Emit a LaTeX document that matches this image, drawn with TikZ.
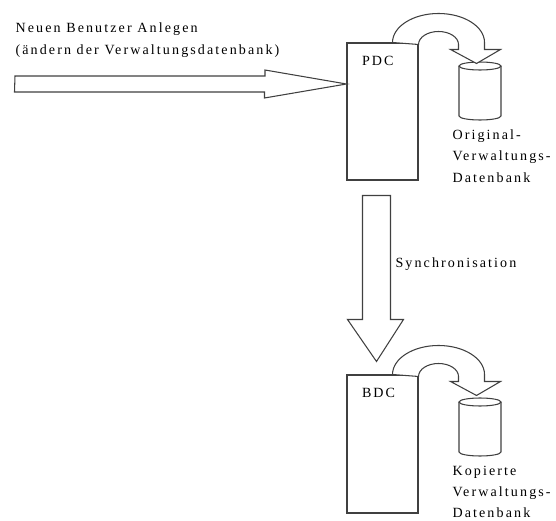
\documentclass[tikz,border=0pt]{standalone}
\usepackage{fontspec}
\setmainfont{Liberation Serif}[LetterSpace=15]
\usepackage{tikz}
\usetikzlibrary{calc}
\tikzset{
	dcbox/.style={draw, minimum width=1.42cm, inner sep=0pt},
	bigarrow/.style={draw, fill=white, line join=miter},
	txt/.style={inner sep=0pt, align=left, font=\fontsize{8}{12.2}\selectfont}
}
\def\hookarrow(#1){\draw[bigarrow] (#1.north east) ++(-26,0) arc[start angle=180, end angle=360, x radius=46, y radius=29] -- ++(0,7) -- ++(16,0) -- ++(-24,14) -- ++(-26,-14) -- ++(8,0) -- ++(0,-5) arc[start angle=0, end angle=-180, x radius=20, y radius=13] -- cycle;}
\def\drum(#1){\draw[fill=white] (#1) ++(-21,-25) -- ++(0,50) arc[start angle=180, end angle=0, x radius=21, y radius=4] -- ++(0,-50);
	\draw[fill=white] (#1) ++(0,-25) ellipse[x radius=21, y radius=4];}

\begin{document}
\begin{tikzpicture}[x=0.02cm, y=-0.02cm, line width=0.6pt, draw=black!75]
		%%%%% START %%%%%
		\useasboundingbox (0,0) rectangle (556,521);
		
		\node[txt, anchor=base west] (task) at (15, 54) {Neuen Benutzer Anlegen\\(ändern der Verwaltungsdatenbank)};
		
		\node[dcbox, minimum height=2.74cm] (pdc) at (382.5, 111.5) {};
		\node[txt, anchor=base west] (pdclbl) at ($(pdc.north west)+(15,23)$) {PDC};
		
		\node[dcbox, minimum height=2.76cm] (bdc) at (382.5, 444) {};
		\node[txt, anchor=base west] (bdclbl) at ($(bdc.north west)+(15,23)$) {BDC};
		
		\coordinate (orig) at (480, 91);
		\drum(orig);
		\node[txt, anchor=base west] (origlbl) at (452, 182) {Original-\\Verwaltungs-\\Datenbank};
		
		\coordinate (copy) at (480, 427);
		\drum(copy);
		\node[txt, anchor=base west] (copylbl) at (452, 518) {Kopierte\\Verwaltungs-\\Datenbank};
		
		\coordinate (in) at (15, 84);
		\draw[bigarrow] (in) ++(0,-8) -- ++(250,0) -- ++(0,-6) -- (pdc.west |- in) -- ++(-82,14) -- ++(0,-6) -- ++(-250,0) -- cycle;
		
		\hookarrow(pdc);
		\hookarrow(bdc);
		
		\draw[bigarrow] ($(pdc.south)+(-20,15)$) -- ($(pdc.south)+(8,15)$) -- ($(bdc.north)+(8,-55)$) -- ($(bdc.north)+(21,-55)$) -- ($(bdc.north)+(-6,-13)$) -- ($(bdc.north)+(-35,-55)$) -- ($(bdc.north)+(-20,-55)$) -- cycle;
		\node[txt, anchor=base west] (sync) at (395, 267) {Synchronisation};
		
		%%%%% END %%%%%
	\end{tikzpicture}
\end{document}
